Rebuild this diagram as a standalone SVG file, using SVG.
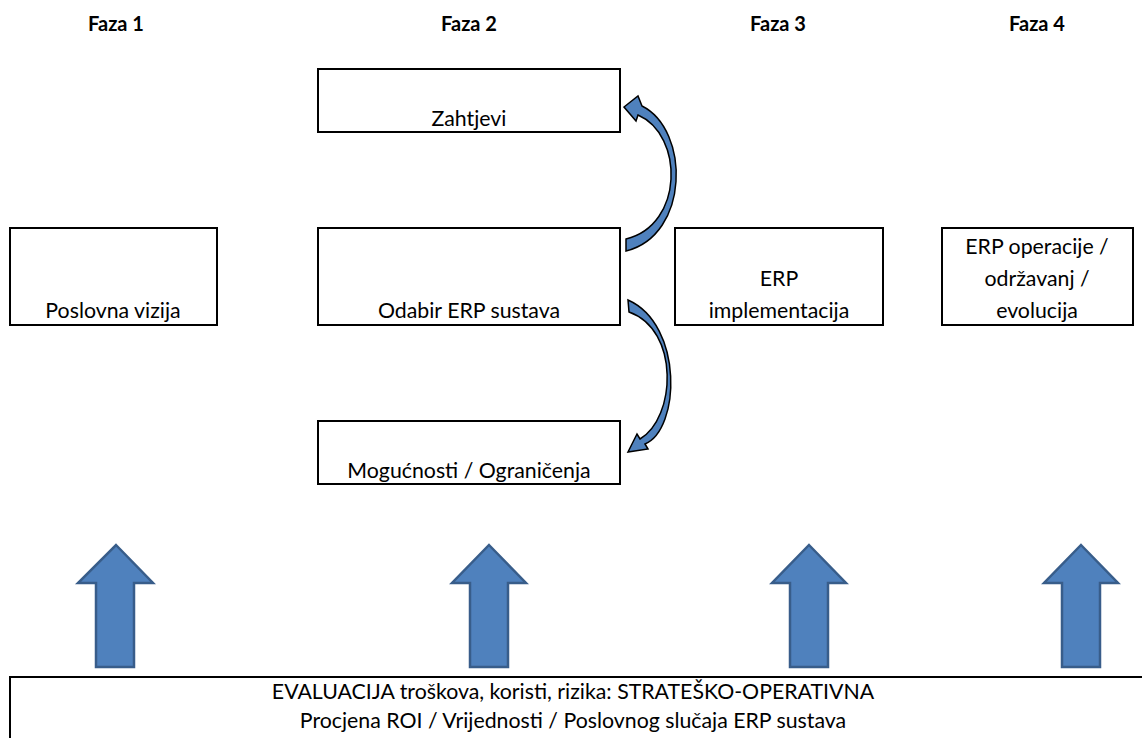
<svg xmlns="http://www.w3.org/2000/svg" width="1142" height="738" viewBox="0 0 1142 738">
<style>
.box{fill:#fff;stroke:#000;stroke-width:2}
.t{font-family:Lato,"Open Sans",sans-serif;font-size:21.3px;fill:#000;text-anchor:middle}
.h{font-family:Lato,"Open Sans",sans-serif;font-size:20px;font-weight:bold;fill:#000;text-anchor:middle}
.ba{fill:#4f81bd;stroke:#385d8a;stroke-width:2.5}
.ca{fill:#4f81bd;stroke:#000;stroke-width:1.5}
</style>
<rect width="1142" height="738" fill="#fff"/>
<g id="headers">
<text class="h" x="116" y="31">Faza 1</text>
<text class="h" x="469" y="31">Faza 2</text>
<text class="h" x="778" y="31">Faza 3</text>
<text class="h" x="1037" y="31">Faza 4</text>
</g>
<g id="zahtjevi"><rect class="box" x="318" y="69" width="302" height="63"/><text class="t" x="469" y="126">Zahtjevi</text></g>
<g id="vizija"><rect class="box" x="10" y="228" width="207" height="97"/><text class="t" x="113" y="318">Poslovna vizija</text></g>
<g id="odabir"><rect class="box" x="318" y="228" width="302" height="97"/><text class="t" x="469" y="318">Odabir ERP sustava</text></g>
<g id="implementacija"><rect class="box" x="675" y="228" width="208" height="97"/><text class="t" x="779" y="286">ERP</text><text class="t" x="779" y="318">implementacija</text></g>
<g id="operacije"><rect class="box" x="942" y="228" width="191" height="97"/><text class="t" x="1037" y="254">ERP operacije /</text><text class="t" x="1037" y="286">održavanj /</text><text class="t" x="1037" y="318">evolucija</text></g>
<g id="mogucnosti"><rect class="box" x="318" y="421" width="302" height="63"/><text class="t" x="469" y="478">Mogućnosti / Ograničenja</text></g>
<g id="evaluacija"><rect class="box" x="10" y="677" width="1140" height="70"/><text class="t" x="573" y="699">EVALUACIJA troškova, koristi, rizika: STRATEŠKO-OPERATIVNA</text><text class="t" x="573" y="728">Procjena ROI / Vrijednosti / Poslovnog slučaja ERP sustava</text></g>
<g id="connectors">
<path class="ca" d="M626,251 C690,235 690,130 642,106 L638,96 L624,107 L636,121 L638,115 C684,135 684,225 626,239 Z"/>
<path class="ca" d="M628,300 C684,325 680,430 645,444 L648,449 L628,452 L637,434 L640,439 C676,418 680,330 629,312 Z"/>
<path class="ba" d="M116,545 L153,583 L134,583 L134,667 L96,667 L96,583 L78,583 Z"/>
<path class="ba" d="M489,545 L526,583 L508,583 L508,667 L470,667 L470,583 L452,583 Z"/>
<path class="ba" d="M809,545 L846,583 L828,583 L828,667 L790,667 L790,583 L772,583 Z"/>
<path class="ba" d="M1081,545 L1118,583 L1100,583 L1100,667 L1062,667 L1062,583 L1044,583 Z"/>
</g>
</svg>
